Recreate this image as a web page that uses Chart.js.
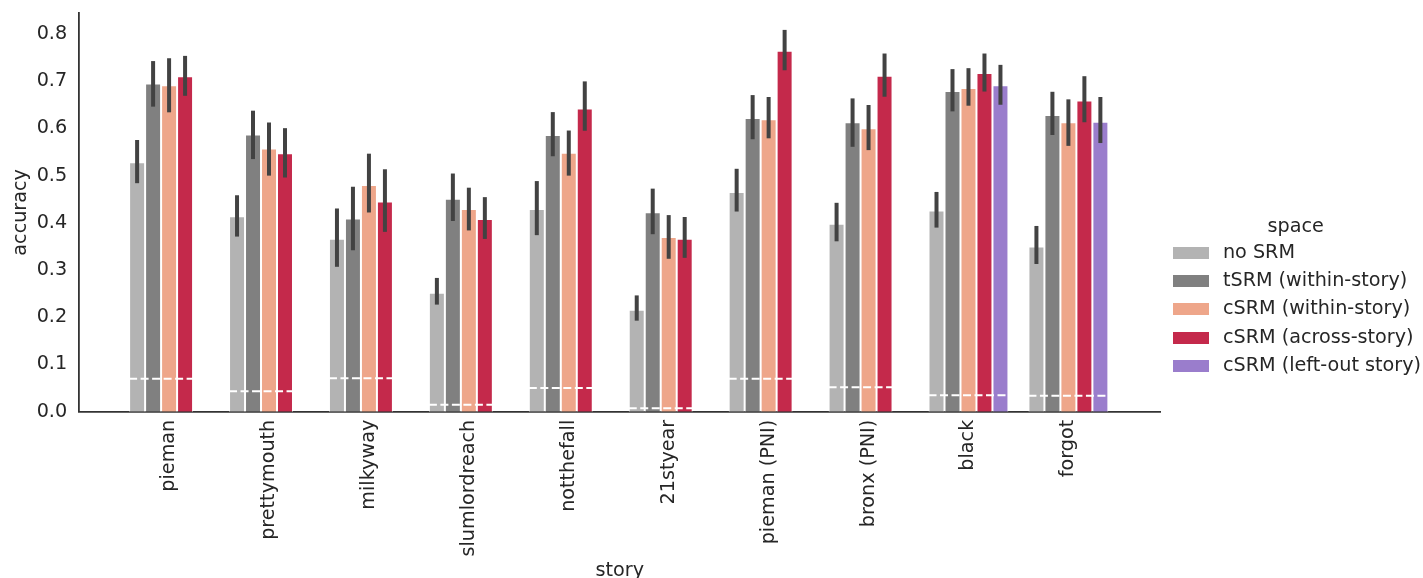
<!DOCTYPE html>
<html>
<head>
<meta charset="utf-8">
<script src="https://cdn.jsdelivr.net/npm/chart.js@4.4.1/dist/chart.umd.min.js"></script>
<style>
html, body { margin: 0; padding: 0; background: #fff; overflow: hidden; }
</style>
</head>
<body>
<canvas id="grafico" width="1423" height="590"></canvas>
<script>
// Storie (categorie asse x)
const storie = ["pieman", "prettymouth", "milkyway", "slumlordreach", "notthefall",
    "21styear", "pieman (PNI)", "bronx (PNI)", "black", "forgot"];

// Accuratezza media per spazio, con intervallo di confidenza
const noSRM    = [0.528, 0.414, 0.366, 0.252, 0.429, 0.216, 0.465, 0.398, 0.426, 0.350];
const noSRMLo  = [0.488, 0.375, 0.311, 0.231, 0.378, 0.197, 0.428, 0.365, 0.394, 0.317];
const noSRMHi  = [0.571, 0.454, 0.426, 0.279, 0.484, 0.242, 0.510, 0.438, 0.461, 0.389];

const tSRM     = [0.695, 0.587, 0.409, 0.451, 0.586, 0.422, 0.622, 0.613, 0.679, 0.628];
const tSRMLo   = [0.650, 0.539, 0.346, 0.408, 0.545, 0.380, 0.581, 0.565, 0.640, 0.590];
const tSRMHi   = [0.738, 0.633, 0.472, 0.500, 0.630, 0.468, 0.666, 0.659, 0.721, 0.673];

const cWithin   = [0.691, 0.557, 0.480, 0.429, 0.548, 0.370, 0.619, 0.600, 0.685, 0.613];
const cWithinLo = [0.638, 0.504, 0.426, 0.388, 0.504, 0.328, 0.583, 0.558, 0.652, 0.567];
const cWithinHi = [0.744, 0.608, 0.542, 0.470, 0.591, 0.412, 0.662, 0.645, 0.723, 0.657];

const cAcross   = [0.710, 0.547, 0.445, 0.408, 0.642, 0.366, 0.764, 0.711, 0.717, 0.659];
const cAcrossLo = [0.673, 0.500, 0.385, 0.370, 0.599, 0.330, 0.727, 0.671, 0.682, 0.617];
const cAcrossHi = [0.749, 0.596, 0.509, 0.450, 0.695, 0.408, 0.804, 0.754, 0.754, 0.706];

const cLeftOut   = [null, null, null, null, null, null, null, null, 0.691, 0.614];
const cLeftOutLo = [null, null, null, null, null, null, null, null, 0.654, 0.573];
const cLeftOutHi = [null, null, null, null, null, null, null, null, 0.730, 0.662];

// Livello casuale (linee tratteggiate bianche)
const chance = [0.070, 0.0435, 0.071, 0.015, 0.050, 0.0075, 0.070, 0.052, 0.035, 0.034];

const yTicks = [0, 0.1, 0.2, 0.3, 0.4, 0.5, 0.6, 0.7, 0.8];

const serie = [
    { label: "no SRM", valori: noSRM, lo: noSRMLo, hi: noSRMHi, colore: "#b3b3b3" },
    { label: "tSRM (within-story)", valori: tSRM, lo: tSRMLo, hi: tSRMHi, colore: "#808080" },
    { label: "cSRM (within-story)", valori: cWithin, lo: cWithinLo, hi: cWithinHi, colore: "#eea68a" },
    { label: "cSRM (across-story)", valori: cAcross, lo: cAcrossLo, hi: cAcrossHi, colore: "#c4294b" },
    { label: "cSRM (left-out story)", valori: cLeftOut, lo: cLeftOutLo, hi: cLeftOutHi, colore: "#9a7dcc" }
];

// quadratino della legenda (36x12)
function quadrato(colore) {
    const c = document.createElement("canvas");
    c.width = 36;
    c.height = 12;
    const g = c.getContext("2d");
    g.fillStyle = colore;
    g.fillRect(0, 0, 36, 12);
    return c;
}

const datasets = serie.map(s => ({
    label: s.label,
    data: s.valori.map((v, i) => ({ x: i, y: v })),
    ci: [s.lo, s.hi],
    backgroundColor: s.colore,
    borderColor: "#ffffff",
    borderWidth: 1,
    pointStyle: quadrato(s.colore),
    categoryPercentage: 0.8,
    barPercentage: 1
}));

// Linee del caso e barre d'errore
const erroriPlugin = {
    id: "errori",
    afterDatasetsDraw(chart) {
        const c = chart.ctx;
        const y = chart.scales.y;
        c.save();
        c.strokeStyle = "#ffffff";
        c.lineWidth = 2;
        c.setLineDash([8, 3.5]);
        storie.forEach((s, i) => {
            const barre = chart.data.datasets
                .map((d, k) => d.data[i].y === null ? null : chart.getDatasetMeta(k).data[i])
                .filter(b => b);
            const x0 = barre[0].x - barre[0].width / 2;
            const ult = barre[barre.length - 1];
            const x1 = ult.x + ult.width / 2;
            const py = y.getPixelForValue(chance[i]);
            c.beginPath();
            c.moveTo(x0, py);
            c.lineTo(x1, py);
            c.stroke();
        });
        c.restore();

        c.save();
        c.strokeStyle = "#424242";
        c.lineWidth = 4;
        c.lineCap = "square";
        chart.data.datasets.forEach((d, k) => {
            const meta = chart.getDatasetMeta(k);
            meta.data.forEach((bar, i) => {
                if (d.data[i].y === null) return;
                c.beginPath();
                c.moveTo(bar.x, y.getPixelForValue(d.ci[0][i]));
                c.lineTo(bar.x, y.getPixelForValue(d.ci[1][i]));
                c.stroke();
            });
        });
        c.restore();
    }
};

Chart.defaults.font.family = "'DejaVu Sans', sans-serif";
Chart.defaults.font.size = 19.2;
Chart.defaults.color = "#262626";

const ctx = document.getElementById("grafico").getContext("2d");
new Chart(ctx, {
    type: "bar",
    data: { datasets: datasets },
    plugins: [erroriPlugin],
    options: {
        responsive: false,
        animation: false,
        layout: { padding: { left: 5.6, top: 13, right: -8, bottom: 0 } },
        plugins: {
            tooltip: { enabled: false },
            legend: {
                position: "right",
                align: "center",
                title: { display: true, text: "space", padding: { top: -1.6, bottom: -5.8 } },
                labels: { usePointStyle: true, pointStyleWidth: 44, padding: 9, color: "#262626" }
            }
        },
        scales: {
            x: {
                type: "linear",
                offset: false,
                min: -0.9,
                max: 9.92,
                grid: { display: false, drawTicks: false },
                border: { color: "#333333", width: 1.8 },
                afterBuildTicks: axis => { axis.ticks = storie.map((s, i) => ({ value: i })); },
                ticks: {
                    autoSkip: false, maxRotation: 90, minRotation: 90, padding: 8,
                    callback: v => storie[v]
                },
                title: { display: true, text: "story", padding: { top: -5, bottom: 7.5 } }
            },
            y: {
                min: 0,
                max: 0.844,
                grid: { display: false, drawTicks: true, tickLength: 12 },
                border: { color: "#333333", width: 1.8 },
                afterBuildTicks: axis => { axis.ticks = yTicks.map(v => ({ value: v })); },
                ticks: { padding: 0, callback: v => v.toFixed(1) },
                title: { display: true, text: "accuracy", padding: { top: 4, bottom: 4 } }
            }
        }
    }
});
</script>
</body>
</html>
